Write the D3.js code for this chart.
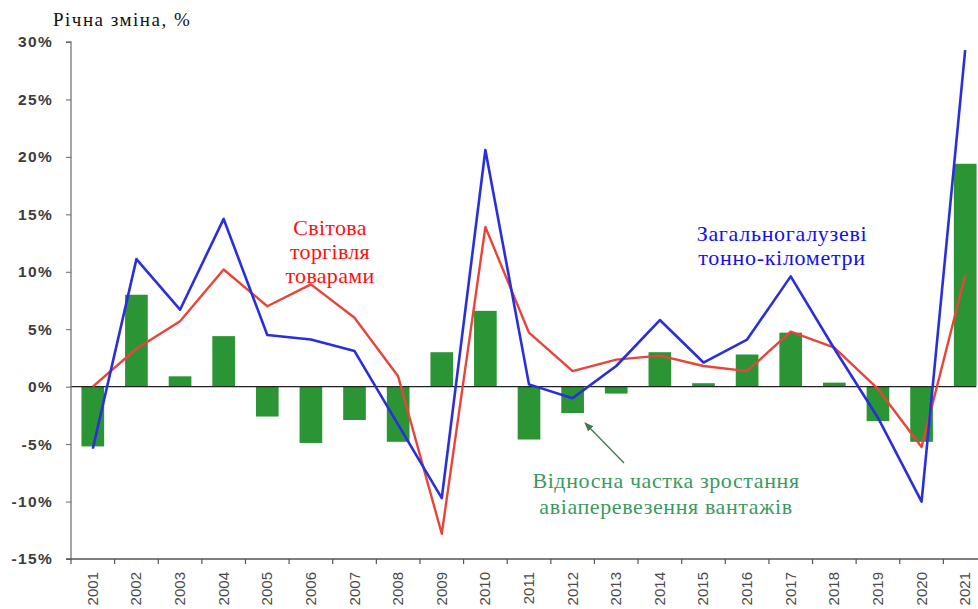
<!DOCTYPE html>
<html>
<head>
<meta charset="utf-8">
<script src="https://cdn.jsdelivr.net/npm/d3@7"></script>
<style>
  html, body { margin: 0; padding: 0; background: #fff; overflow: hidden; }
  svg { display: block; }
  .serif { font-family: "Liberation Serif", "Times New Roman", "DejaVu Serif", serif; }
  .sans { font-family: "Liberation Sans", Arial, "DejaVu Sans", sans-serif; }
</style>
</head>
<body>
<svg id="chart" width="978" height="609"></svg>
<script>
const years = ["2001","2002","2003","2004","2005","2006","2007","2008","2009","2010","2011","2012","2013","2014","2015","2016","2017","2018","2019","2020","2021"];
const airShare = [-5.2, 8.0, 0.9, 4.4, -2.6, -4.9, -2.9, -4.8, 3.0, 6.6, -4.6, -2.3, -0.6, 3.0, 0.3, 2.8, 4.7, 0.35, -3.0, -4.8, 19.4];
const tonneKm = [-5.4, 11.1, 6.7, 14.6, 4.5, 4.1, 3.1, -3.3, -9.7, 20.6, 0.2, -1.0, 1.8, 5.8, 2.1, 4.1, 9.6, 3.3, -2.7, -10.0, 29.3];
const worldTrade = [0.0, 3.3, 5.7, 10.2, 7.0, 8.9, 6.0, 0.9, -12.8, 13.9, 4.7, 1.35, 2.35, 2.7, 1.8, 1.35, 4.8, 3.4, -0.2, -5.25, 9.7];
const yTicks = [30, 25, 20, 15, 10, 5, 0, -5, -10, -15];

const svg = d3.select("#chart");
const x = d3.scaleBand().domain(years).range([71, 987]).paddingInner(0.48).paddingOuter(0.24);
const xStep = d3.scaleBand().domain(years).range([71, 987]).padding(0);
const y = d3.scaleLinear().domain([-15, 30]).range([559, 42]);

// Bars
svg.append("g").selectAll("rect").data(years).join("rect")
  .attr("x", d => x(d))
  .attr("width", x.bandwidth())
  .attr("y", (d, i) => y(Math.max(0, airShare[i])))
  .attr("height", (d, i) => Math.abs(y(airShare[i]) - y(0)))
  .attr("fill", "#2b9535");

// Zero line
svg.append("line")
  .attr("x1", 71).attr("x2", 976)
  .attr("y1", y(0)).attr("y2", y(0))
  .attr("stroke", "#222").attr("stroke-width", 1.3);

// Y axis
const yAxis = d3.axisLeft(y).tickValues(yTicks).tickSize(5).tickFormat(d => d + "%");
const gy = svg.append("g").attr("transform", "translate(71,0)").call(yAxis);
gy.attr("font-family", null).attr("font-size", null);
gy.select(".domain").attr("stroke", "#777").attr("stroke-width", 1.3).attr("d", `M-5,${y(30)}H0V${y(-15)}`);
gy.selectAll(".tick line").attr("stroke", "#666");
gy.selectAll(".tick text")
  .attr("class", "sans")
  .attr("x", -18)
  .attr("font-size", 15.5)
  .attr("font-weight", "bold")
  .attr("letter-spacing", "1.3px")
  .attr("fill", "#3c3c3c");

// X axis
const gx = svg.append("g").attr("transform", `translate(0,${y(-15)})`);
gx.append("line").attr("x1", 66).attr("x2", 978).attr("y1", 0).attr("y2", 0)
  .attr("stroke", "#555").attr("stroke-width", 1.3);
gx.selectAll(".xt").data(years).join("line")
  .attr("class", "xt")
  .attr("x1", d => xStep(d)).attr("x2", d => xStep(d))
  .attr("y1", 0).attr("y2", 5)
  .attr("stroke", "#555").attr("stroke-width", 1.2);
gx.selectAll(".xl").data(years).join("text")
  .attr("class", "xl sans")
  .attr("transform", d => `translate(${x(d) + x.bandwidth() / 2 + 5},13) rotate(-90)`)
  .attr("text-anchor", "end")
  .attr("font-size", 15)
  .attr("fill", "#4a4a4a")
  .text(d => d);

// Lines
const cx = d => x(d) + x.bandwidth() / 2;
const line = vals => d3.line().x((d, i) => cx(years[i])).y((d, i) => y(vals[i]))(vals);

svg.append("path").attr("d", line(worldTrade))
  .attr("fill", "none").attr("stroke", "#e8443a").attr("stroke-width", 2.4).attr("stroke-linejoin", "round");
svg.append("path").attr("d", line(tonneKm))
  .attr("fill", "none").attr("stroke", "#2a2fdc").attr("stroke-width", 2.6).attr("stroke-linejoin", "round");

// Title
svg.append("text").attr("class", "serif").attr("x", 53).attr("y", 26)
  .attr("font-size", 19).attr("fill", "#111").attr("letter-spacing", "1.5px")
  .text("Річна зміна, %");

// Annotations
function multi(lines, cxp, y0, dy, color, size, ls) {
  const t = svg.append("text").attr("class", "serif")
    .attr("font-size", size).attr("fill", color).attr("text-anchor", "middle")
    .attr("letter-spacing", ls + "px");
  lines.forEach((l, i) => t.append("tspan").attr("x", cxp).attr("y", y0 + i * dy).text(l));
}
multi(["Світова", "торгівля", "товарами"], 330, 235, 24, "#ff1010", 22, 0.3);
multi(["Загальногалузеві", "тонно-кілометри"], 782, 241, 24, "#1010f0", 22, 0.7);
multi(["Відносна частка зростання", "авіаперевезення вантажів"], 666, 488, 26, "#3a9a60", 22, 0.6);

// Arrow
svg.append("defs").append("marker")
  .attr("id", "arr").attr("viewBox", "0 0 10 10").attr("refX", 9).attr("refY", 5)
  .attr("markerWidth", 7).attr("markerHeight", 7).attr("orient", "auto")
  .append("path").attr("d", "M0,1L10,5L0,9z").attr("fill", "#3d7a4e");
svg.append("line")
  .attr("x1", 624).attr("y1", 463).attr("x2", 585).attr("y2", 423)
  .attr("stroke", "#3d7a4e").attr("stroke-width", 1.3).attr("marker-end", "url(#arr)");
</script>
</body>
</html>
